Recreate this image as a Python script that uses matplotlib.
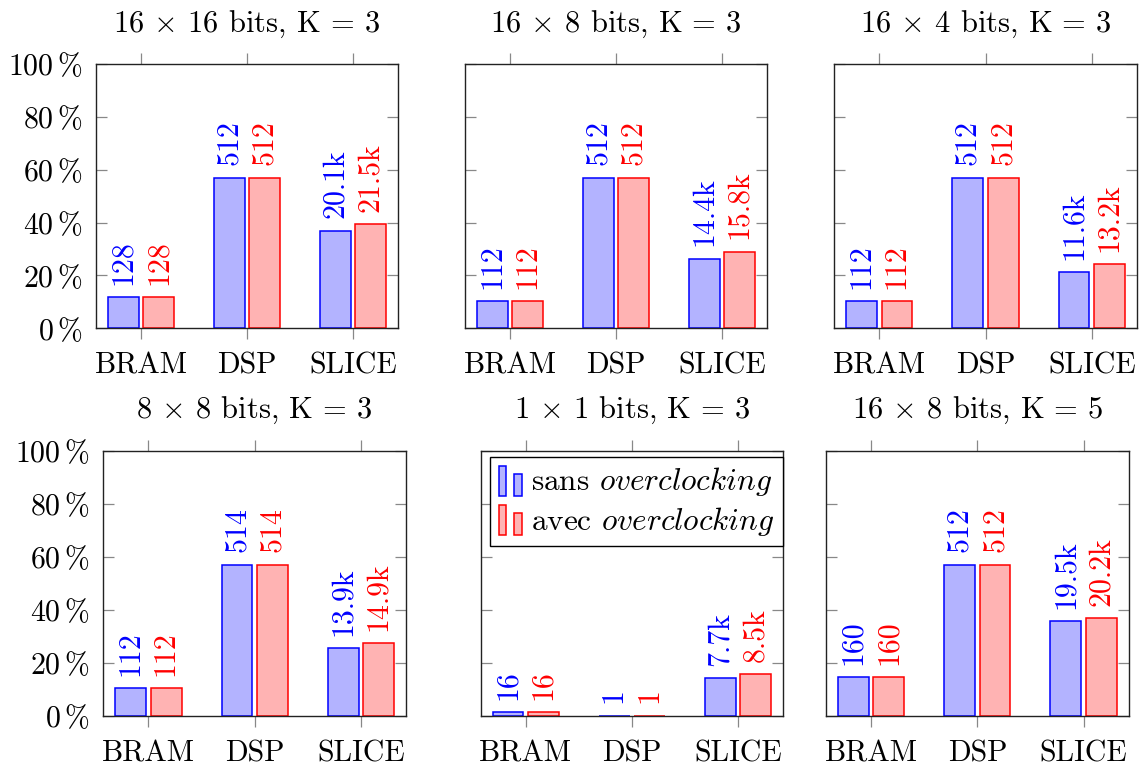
import matplotlib
matplotlib.use("Agg")
import matplotlib.pyplot as plt
from matplotlib.patches import Rectangle
from matplotlib.legend_handler import HandlerBase
import numpy as np

plt.rcParams['font.family'] = ['cmr10', 'DejaVu Serif']
plt.rcParams['mathtext.fontset'] = 'cm'
plt.rcParams['axes.unicode_minus'] = False
plt.rcParams['axes.formatter.use_mathtext'] = True

# ---------------- data ----------------
categories = ['BRAM', 'DSP', 'SLICE']
titles = [r'16 $\times$ 16 bits, K = 3',
          r'16 $\times$ 8 bits, K = 3',
          r'16 $\times$ 4 bits, K = 3',
          r'8 $\times$ 8 bits, K = 3',
          r'1 $\times$ 1 bits, K = 3',
          r'16 $\times$ 8 bits, K = 5']
sans_pct = [[11.7, 57.0, 36.9],
            [10.2, 57.0, 26.3],
            [10.2, 57.0, 21.2],
            [10.4, 57.1, 25.5],
            [1.5, 0.1, 14.2],
            [14.7, 57.0, 35.7]]
avec_pct = [[11.7, 57.0, 39.4],
            [10.2, 57.0, 29.0],
            [10.2, 57.0, 24.2],
            [10.4, 57.1, 27.4],
            [1.5, 0.1, 15.7],
            [14.7, 57.0, 36.9]]
sans_labels = [['128', '512', '20.1k'],
               ['112', '512', '14.4k'],
               ['112', '512', '11.6k'],
               ['112', '514', '13.9k'],
               ['16', '1', '7.7k'],
               ['160', '512', '19.5k']]
avec_labels = [['128', '512', '21.5k'],
               ['112', '512', '15.8k'],
               ['112', '512', '13.2k'],
               ['112', '514', '14.9k'],
               ['16', '1', '8.5k'],
               ['160', '512', '20.2k']]
yticks = [0, 20, 40, 60, 80, 100]
legend_labels = [r'sans $\mathit{overclocking}$', r'avec $\mathit{overclocking}$']

# ---------------- style ----------------
W, H = 1142, 765
FS = 21.5
blue_fill, blue_edge = (0.7, 0.7, 1.0), (0, 0, 1)
red_fill, red_edge = (1.0, 0.7, 0.7), (1, 0, 0)
tick_col = '#888888'

panels_px = [(96, 398, 64, 328.3), (465, 767, 64, 328.3), (834, 1137, 64, 328.3),
             (103.3, 406, 450.7, 716), (480.7, 783, 450.7, 716), (826, 1128.7, 450.7, 716)]

fig = plt.figure(figsize=(W / 100, H / 100), dpi=100)

bw = 0.29
off = 0.167
x = np.arange(len(categories))

axes = []
for i, (l, r, t, b) in enumerate(panels_px):
    ax = fig.add_axes([l / W, (H - b) / H, (r - l) / W, (b - t) / H])
    axes.append(ax)
    ax.bar(x - off, sans_pct[i], bw, color=blue_fill, edgecolor=blue_edge, linewidth=1.1, zorder=2)
    ax.bar(x + off, avec_pct[i], bw, color=red_fill, edgecolor=red_edge, linewidth=1.1, zorder=2)
    for j in range(len(categories)):
        ax.annotate(sans_labels[i][j], xy=(x[j] - off, sans_pct[i][j]), xytext=(0, 9),
                    textcoords='offset points', rotation=90, ha='center', va='bottom',
                    color=blue_edge, fontsize=FS)
        ax.annotate(avec_labels[i][j], xy=(x[j] + off, avec_pct[i][j]), xytext=(0, 9),
                    textcoords='offset points', rotation=90, ha='center', va='bottom',
                    color=red_edge, fontsize=FS)
    ax.set_xlim(-0.425, 2.425)
    ax.set_ylim(0, 100)
    ax.set_xticks(x)
    ax.set_xticklabels(categories, fontsize=FS)
    ax.set_yticks(yticks)
    if i % 3 == 0:
        ax.set_yticklabels([r'$%d\,\%%$' % v for v in yticks], fontsize=FS)
    else:
        ax.set_yticklabels([])
    ax.tick_params(axis='x', direction='out', length=8, width=0.9, color=tick_col,
                   top=True, bottom=True, pad=9)
    ax.tick_params(axis='y', direction='in', length=8, width=0.9, color=tick_col,
                   left=True, right=True, pad=10)
    for s in ax.spines.values():
        s.set_linewidth(1.0)
        s.set_color('#222222')
        s.set_zorder(3)
    ax.text(0.5, 1.122, titles[i], transform=ax.transAxes, ha='center', va='baseline',
            fontsize=FS + 0.5)


class TwoBarHandler(HandlerBase):
    def __init__(self, fill, edge):
        super().__init__()
        self.fill = fill
        self.edge = edge

    def create_artists(self, legend, orig_handle, xdescent, ydescent, width, height,
                       fontsize, trans):
        bw_ = width * 0.3
        r1 = Rectangle((-xdescent, -ydescent - height * 0.25), bw_, height * 1.35,
                       facecolor=self.fill, edgecolor=self.edge, linewidth=1.1, transform=trans)
        r2 = Rectangle((-xdescent + width * 0.6, -ydescent - height * 0.25), bw_, height * 1.0,
                       facecolor=self.fill, edgecolor=self.edge, linewidth=1.1, transform=trans)
        return [r1, r2]


h1 = Rectangle((0, 0), 1, 1)
h2 = Rectangle((0, 0), 1, 1)
leg = axes[4].legend([h1, h2], legend_labels, loc='upper left',
                     bbox_to_anchor=(0.03, 0.978), fontsize=22.5, frameon=True,
                     fancybox=False, edgecolor='black', framealpha=1,
                     handler_map={h1: TwoBarHandler(blue_fill, blue_edge),
                                  h2: TwoBarHandler(red_fill, red_edge)},
                     handlelength=0.85, handleheight=0.7, handletextpad=0.2,
                     borderpad=0.28, labelspacing=0.2, borderaxespad=0)
leg.get_frame().set_linewidth(1.0)

fig.savefig('out.png', dpi=100)
